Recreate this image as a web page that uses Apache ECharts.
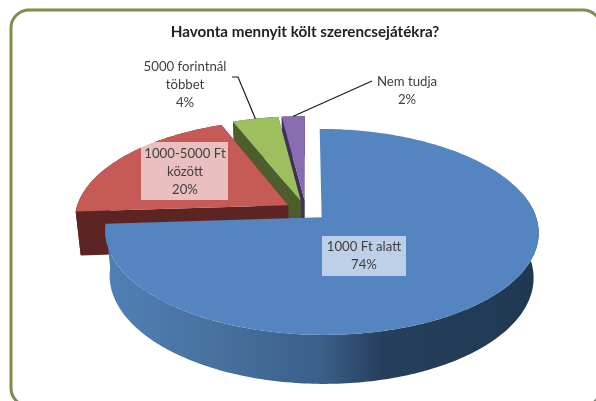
<!DOCTYPE html>
<html><head><meta charset="utf-8">
<style>html,body{margin:0;padding:0;background:#fff}#c{width:596px;height:401px}</style>
<script src="https://cdn.jsdelivr.net/npm/echarts@6/dist/echarts.min.js"></script>
</head><body><div id="c"></div>
<script>
const categories = ["1000 Ft alatt", "1000-5000 Ft\nközött", "5000 forintnál\ntöbbet", "Nem tudja"];
const values = [74, 20, 4, 2];
const topColors = ["#5585c0", "#c55a57", "#9dbf5d", "#8a6cb0"];
const wallColors = [null, "#5c2523", "#4b5e2b", "#3f3158"];
const title = "Havonta mennyit költ szerencsejátékra?";

// 3D view of the pie
const view = {cx:306, cy:210.5, R:212.5, B:99, k:0.14, sb:0.978, H:44, explode:0.1, wallFrom:75};
const total = values.reduce((a,b)=>a+b,0);
const rad = d => d*Math.PI/180;
function project(u, v, bottom){
  const s = 1/(1+view.k*v), b = bottom ? view.sb : 1;
  return [view.cx + view.R*u*s*b, view.cy - view.B*v*s*b + (bottom ? view.H*s : 0)];
}
function sliceAngles(i){
  let a = 0;
  for(let j=0;j<i;j++) a += values[j]/total*360;
  const e = a + values[i]/total*360;
  return [a, e, (a+e)/2];
}
function arcPts(i, bottom, from){
  const [a0,e,m] = sliceAngles(i);
  const a = from === undefined ? a0 : Math.max(a0, from);
  const ou = view.explode*Math.sin(rad(m)), ov = view.explode*Math.cos(rad(m));
  const n = Math.max(4, Math.ceil(e-a)), pts = [];
  for(let t=0;t<=n;t++){
    const d = rad(a+(e-a)*t/n);
    pts.push(project(ou+Math.sin(d), ov+Math.cos(d), bottom));
  }
  return {pts, apex: project(ou, ov, bottom)};
}
function anchor(i){
  const [,,m] = sliceAngles(i), d = rad(m);
  return project(view.explode*Math.sin(d)+Math.sin(d), view.explode*Math.cos(d)+Math.cos(d), false);
}
const blueWall = {type:'linear',x:0,y:0,x2:1,y2:0,colorStops:[
  {offset:0,color:"#5080b6"},{offset:.25,color:"#47729f"},{offset:.5,color:"#3a5f89"},
  {offset:.64,color:"#263f5c"},{offset:1,color:"#1f3852"}]};

const labelBoxes = [
  {x:364, y:256, lines:2, box:[322,236,84,40]},
  {x:185, y:172, lines:3, box:[141,142,87,58]},
  {x:185, y:85,  lines:3, elbow:[[238,77],[232,77]]},
  {x:407, y:91,  lines:2, elbow:[[372,81]]}
];

function renderSlice(params){
  const i = params.dataIndex, base = (categories.length-i)*10;
  const top = arcPts(i,false), wt = i===0 ? arcPts(i,false,view.wallFrom) : top, bt = i===0 ? arcPts(i,true,view.wallFrom) : arcPts(i,true);
  const wallFill = i===0 ? blueWall : wallColors[i];
  const kids = [];
  if(i!==0){
    // radial cut faces
    kids.push({type:'polygon',z2:base,shape:{points:[top.apex,top.pts[0],bt.pts[0],bt.apex]},style:{fill:wallFill}});
    const L = top.pts.length-1;
    kids.push({type:'polygon',z2:base,shape:{points:[top.apex,top.pts[L],bt.pts[L],bt.apex]},style:{fill:wallFill}});
  }
  kids.push({type:'polygon',z2:base+1,shape:{points:wt.pts.concat(bt.pts.slice().reverse())},style:{fill:wallFill}});
  kids.push({type:'polygon',z2:base+2,shape:{points:[top.apex].concat(top.pts)},style:{fill:topColors[i]}});
  return {type:'group',children:kids};
}
function renderLabel(params){
  const i = params.dataIndex, L = labelBoxes[i], kids = [];
  if(L.box) kids.push({type:'rect',z2:100,shape:{x:L.box[0],y:L.box[1],width:L.box[2],height:L.box[3]},style:{fill:'rgba(255,255,255,0.62)'}});
  if(L.elbow){
    kids.push({type:'polyline',z2:100,shape:{points:[anchor(i)].concat(L.elbow)},style:{stroke:'#1a1a1a',lineWidth:1.2,fill:null}});
  }
  kids.push({type:'text',z2:101,style:{x:L.x,y:L.y,text:categories[i]+"\n"+values[i]+"%",
    fill:'#404040',font:'13.2px Lato',align:'center',verticalAlign:'middle',lineHeight:18}});
  return {type:'group',children:kids};
}
const chart = echarts.init(document.getElementById('c'),null,{renderer:'canvas'});
chart.setOption({
  animation:false,
  backgroundColor:'#fff',
  title:{text:title,left:300,top:20,textAlign:'center',textStyle:{fontFamily:'Lato',fontSize:15.2,fontWeight:'bold',color:'#222'}},
  graphic:[{type:'rect',z:-1,shape:{x:11,y:10,width:590,height:396,r:18},style:{fill:'#fff',stroke:'#7f8c4c',lineWidth:3}}],
  series:[
    {type:'custom',coordinateSystem:'none',data:values,renderItem:renderSlice,silent:true,z:2},
    {type:'custom',coordinateSystem:'none',data:values,renderItem:renderLabel,silent:true,z:3}
  ]
});
</script></body></html>
